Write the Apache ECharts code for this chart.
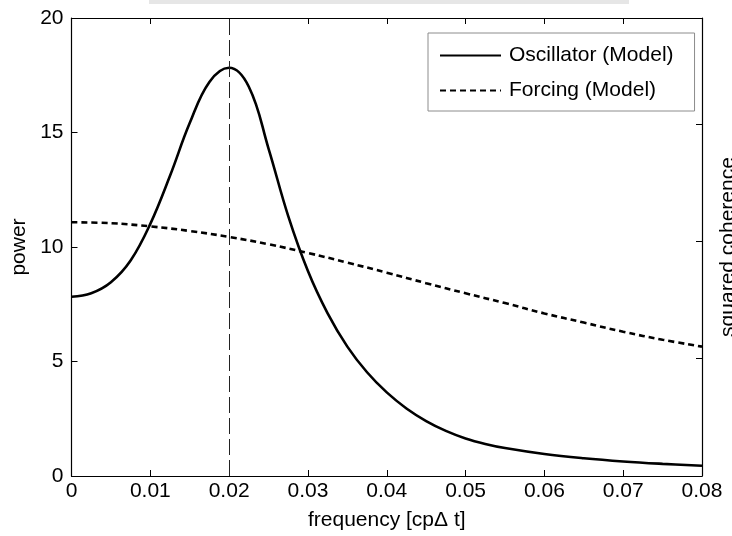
<!DOCTYPE html>
<html>
<head>
<meta charset="utf-8">
<script src="https://cdn.jsdelivr.net/npm/echarts@6/dist/echarts.min.js"></script>
<style>
  html, body { margin: 0; padding: 0; background: #fff; }
  #chart { width: 732px; height: 536px; }
</style>
</head>
<body>
<div id="chart"></div>
<script>
// Spectral power of the oscillator and its forcing, frequency in cycles per time step
const freqOsc = [0, 0.0025, 0.005, 0.0075, 0.01, 0.0125, 0.015, 0.0175, 0.02, 0.0225, 0.025, 0.0275,
                 0.03, 0.0325, 0.035, 0.0375, 0.04, 0.0425, 0.045, 0.0475, 0.05, 0.0525, 0.055,
                 0.06, 0.065, 0.07, 0.075, 0.08];
const powerOsc = [7.83, 7.98, 8.46, 9.41, 11.01, 13.11, 15.41, 17.21, 17.83, 17.0, 14.3, 11.35,
                  8.95, 7.1, 5.65, 4.53, 3.65, 2.95, 2.4, 1.97, 1.64, 1.40, 1.22,
                  0.96, 0.775, 0.635, 0.53, 0.445];

const freqForcing = [0, 0.005, 0.01, 0.015, 0.02, 0.025, 0.03, 0.035, 0.04, 0.045, 0.05, 0.055,
                     0.06, 0.065, 0.07, 0.075, 0.08];
const powerForcing = [11.08, 11.04, 10.9, 10.7, 10.44, 10.12, 9.74, 9.32, 8.88, 8.42, 7.98, 7.55,
                      7.1, 6.7, 6.3, 5.95, 5.65];

const peakFreq = 0.02;
const seriesNames = ['Oscillator (Model)', 'Forcing (Model)'];
const xTickLabels = ['0', '0.01', '0.02', '0.03', '0.04', '0.05', '0.06', '0.07', '0.08'];
const yTickLabels = ['0', '5', '10', '15', '20'];

const FONT = 'Liberation Sans, Arial, Helvetica, sans-serif';
const INK = '#000';
const FS = 21;

const pairs = (xs, ys) => xs.map((x, i) => [x, ys[i]]);

const chart = echarts.init(document.getElementById('chart'), null, { renderer: 'canvas' });

// Box-style axes: black frame with short ticks pointing into the plot
const frameLine = () => ({ show: true, onZero: false, lineStyle: { color: INK, width: 1.2 } });
const innerTick = () => ({ show: true, inside: true, length: 6, lineStyle: { color: INK, width: 1 } });

chart.setOption({
  animation: false,
  backgroundColor: '#fff',
  textStyle: { fontFamily: FONT },
  grid: { left: 71.5, right: 30, top: 18, bottom: 60, containLabel: false, outerBoundsMode: 'none' },
  legend: {
    data: seriesNames,
    orient: 'vertical',
    left: 428,
    top: 33,
    padding: [12, 21, 10, 11],
    itemWidth: 61,
    itemHeight: 14,
    itemGap: 14,
    borderColor: '#8c8c8c',
    borderWidth: 1,
    backgroundColor: '#fff',
    itemStyle: { opacity: 0 },
    textStyle: { fontFamily: FONT, fontSize: FS, color: INK, padding: [0, 0, 0, 3] }
  },
  xAxis: [
    {
      type: 'value', min: 0, max: 0.08, interval: 0.01,
      name: 'frequency [cpΔ t]', nameLocation: 'middle', nameGap: 34,
      nameTextStyle: { fontFamily: FONT, fontSize: FS, color: INK },
      axisLine: frameLine(), axisTick: innerTick(), splitLine: { show: false },
      axisLabel: {
        margin: 5, fontFamily: FONT, fontSize: FS, color: INK,
        formatter: v => xTickLabels[Math.round(v / 0.01)]
      }
    },
    {
      type: 'value', position: 'top', min: 0, max: 0.08, interval: 0.01,
      axisLine: frameLine(), axisTick: innerTick(), axisLabel: { show: false }, splitLine: { show: false }
    }
  ],
  yAxis: [
    {
      type: 'value', position: 'left', min: 0, max: 20, interval: 5,
      name: 'power', nameLocation: 'middle', nameGap: 41, nameRotate: 90,
      nameTextStyle: { fontFamily: FONT, fontSize: FS, color: INK },
      axisLine: frameLine(), axisTick: innerTick(), splitLine: { show: false },
      axisLabel: {
        margin: 8, fontFamily: FONT, fontSize: FS, color: INK,
        formatter: v => yTickLabels[Math.round(v / 5)]
      }
    },
    {
      type: 'value', position: 'right', min: 0, max: 0.781, interval: 0.2,
      name: 'squared coherence', nameLocation: 'middle', nameGap: 16, nameRotate: 90,
      nameTextStyle: { fontFamily: FONT, fontSize: FS, color: INK },
      axisLine: frameLine(), axisTick: innerTick(), axisLabel: { show: false }, splitLine: { show: false }
    }
  ],
  series: [
    {
      name: seriesNames[0], type: 'line', xAxisIndex: 0, yAxisIndex: 0,
      data: pairs(freqOsc, powerOsc),
      smooth: 0.4, symbol: 'none',
      lineStyle: { color: INK, width: 2.6 },
      itemStyle: { color: INK },
      markLine: {
        silent: true, symbol: 'none', label: { show: false },
        lineStyle: { color: '#222', width: 1, type: [16, 5] },
        data: [{ xAxis: peakFreq }]
      },
      z: 3
    },
    {
      name: seriesNames[1], type: 'line', xAxisIndex: 0, yAxisIndex: 0,
      data: pairs(freqForcing, powerForcing),
      smooth: 0.4, symbol: 'none',
      lineStyle: { color: INK, width: 2.6, type: [6, 4] },
      itemStyle: { color: INK },
      z: 3
    }
  ],
  graphic: [
    { type: 'rect', left: 149, top: 0, shape: { width: 480, height: 4 }, style: { fill: '#e6e6e6' }, silent: true }
  ]
});
</script>
</body>
</html>
